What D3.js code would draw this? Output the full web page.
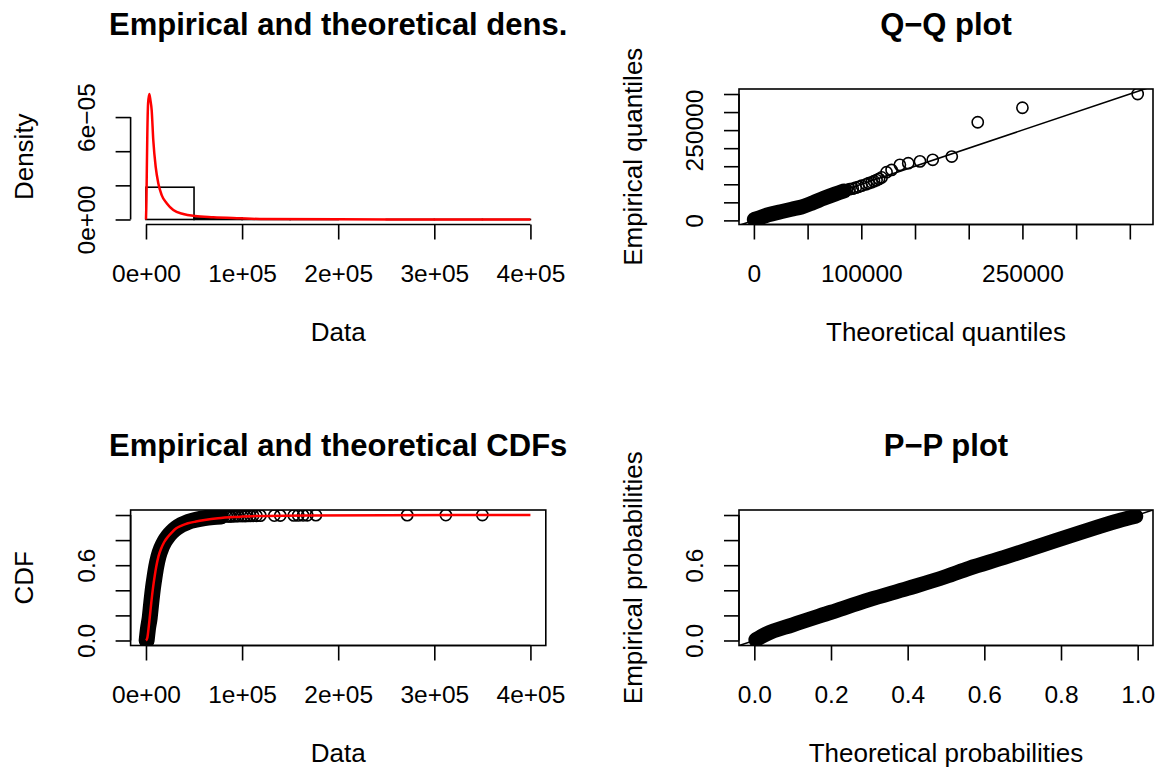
<!DOCTYPE html>
<html>
<head>
<meta charset="utf-8">
<script src="https://cdn.jsdelivr.net/npm/d3@7"></script>
<style>
body { margin: 0; background: #fff; }
text { font-family: "Liberation Sans", Arial, Helvetica, sans-serif; fill: #000; }
</style>
</head>
<body>
<div id="chart"></div>
<script>
// ---- data ----
// histogram (breaks and densities)
var histBreaks = [0, 50000, 100000, 150000, 200000, 250000, 300000, 350000, 400000];
var histDensity = [1.89e-5, 0.09e-5, 0.008e-5, 0.01e-5, 0, 0.0005e-5, 0.0005e-5, 0.0005e-5];

// fitted density (red curve)
var densFitX = [0, 500, 900, 1400, 2200, 3430, 4600, 5930, 7600, 10090, 12800, 16340, 21540, 28410, 38810, 50990, 70030, 97810, 118600, 200000, 300000, 400000];
var densFitY = [0, 1.2e-5, 3.0e-5, 5.0e-5, 6.8e-5, 7.35e-5, 7.0e-5, 6.41e-5, 4.65e-5, 3.09e-5, 2.12e-5, 1.43e-5, 0.95e-5, 0.556e-5, 0.32e-5, 0.20e-5, 0.13e-5, 0.07e-5, 0.03e-5, 0.01e-5, 0.004e-5, 0.002e-5];

// largest observations (drawn one by one), their ECDF values and theoretical quantiles
var tailValues = [84000, 86500, 88000, 90500, 93000, 96000, 100000, 103000, 105500, 108500, 111500, 115000, 119000, 133500, 139700, 153800, 158400, 163500, 167800, 176800, 271800, 312000, 350000];
var tailCdf = [0.9885, 0.989, 0.9895, 0.990, 0.9905, 0.991, 0.9915, 0.992, 0.9925, 0.993, 0.9935, 0.994, 0.995, 0.9955, 0.996, 0.9965, 0.997, 0.9975, 0.998, 0.9985, 0.999, 0.9995, 1.0];
var tailTheo = [86500, 89000, 92000, 94800, 97500, 100300, 104500, 106800, 109600, 111800, 114200, 116500, 118900, 123500, 128200, 135900, 143700, 154600, 166500, 184200, 208400, 250000, 357300];

// dense part of the sample, read as the centre line of the black band
var cdfBandX = [700, 2000, 3850, 5500, 7300, 9000, 10700, 13000, 15900, 19000, 22900, 27000, 31500, 37000, 43700, 52000, 61000, 70000, 78000];
var cdfBandP = [0.0, 0.09, 0.18, 0.30, 0.42, 0.51, 0.59, 0.67, 0.735, 0.785, 0.83, 0.865, 0.895, 0.922, 0.945, 0.962, 0.975, 0.983, 0.988];

// fitted CDF (red curve)
var cdfFitX = [0, 1350, 2600, 3850, 5500, 7280, 9000, 10720, 13000, 15920, 19000, 22890, 27000, 31530, 37000, 43700, 52000, 61080, 74920, 95000, 115200, 167200, 250000, 400000];
var cdfFitP = [0, 0.02, 0.09, 0.178, 0.30, 0.417, 0.51, 0.589, 0.67, 0.735, 0.785, 0.827, 0.862, 0.894, 0.915, 0.934, 0.948, 0.960, 0.974, 0.985, 0.992, 0.997, 0.999, 1.0];

// Q-Q band (theoretical, empirical)
var qqBandTheo = [400, 5000, 13300, 25000, 35000, 44400, 55000, 65000, 75400, 84000];
var qqBandEmp = [2500, 7000, 15500, 24000, 31000, 37200, 49000, 61000, 72600, 81500];

// P-P band (theoretical, empirical)
var ppTheo = [0.004, 0.03, 0.1, 0.2, 0.3, 0.4, 0.5, 0.56, 0.65, 0.75, 0.85, 0.95, 0.995];
var ppEmp = [0.006, 0.05, 0.125, 0.225, 0.325, 0.415, 0.51, 0.575, 0.66, 0.76, 0.86, 0.955, 0.99];

// tick values and the labels that are shown
var sciTicks = [0, 100000, 200000, 300000, 400000];
var sciLabels = ["0e+00", "1e+05", "2e+05", "3e+05", "4e+05"];
var densTicks = [0, 2e-5, 4e-5, 6e-5];
var densLabels = ["0e+00", "", "", "6e\u221205"];
var qqTicks = [0, 50000, 100000, 150000, 200000, 250000, 300000, 350000];
var qqXLabels = ["0", "", "100000", "", "", "250000", "", ""];
var qqYLabels = ["0", "", "", "", "", "250000", "", ""];
var probTicks = [0, 0.2, 0.4, 0.6, 0.8, 1.0];
var probXLabels = ["0.0", "0.2", "0.4", "0.6", "0.8", "1.0"];
var probYLabels = ["0.0", "", "", "0.6", "", ""];

// ---- layout ----
var width = 1163, height = 769;
var cols = [[130.6, 545.8], [739, 1153]];
var rows = [[224.5, 89], [645.5, 510]];
var lw = 1.6, rad = 5.6;
var tickFont = 24.5, labFont = 26;

function ext(lo, hi) {
  var d = (hi - lo) * 0.04;
  return [lo - d, hi + d];
}

var svg = d3.select("#chart").append("svg")
  .attr("width", width)
  .attr("height", height);
svg.append("rect").attr("width", width).attr("height", height).attr("fill", "#fff");

function panel(o) {
  var xr = cols[o.col], yr = rows[o.row];
  var x = d3.scaleLinear().domain(o.xdom).range(xr);
  var y = d3.scaleLinear().domain(o.ydom).range(yr);
  var g = svg.append("g");
  var id = "clip" + o.col + o.row;
  g.append("clipPath").attr("id", id).append("rect")
    .attr("x", xr[0]).attr("y", yr[1])
    .attr("width", xr[1] - xr[0]).attr("height", yr[0] - yr[1]);
  var plot = g.append("g").attr("clip-path", "url(#" + id + ")");

  if (o.box) {
    g.append("rect")
      .attr("x", xr[0]).attr("y", yr[1])
      .attr("width", xr[1] - xr[0]).attr("height", yr[0] - yr[1])
      .attr("fill", "none").attr("stroke", "#000").attr("stroke-width", lw);
  }

  // x axis
  var gx = g.append("g").attr("transform", "translate(0," + yr[0] + ")")
    .call(d3.axisBottom(x).tickValues(o.xticks)
      .tickFormat(function(d, i) { return o.xlabels[i]; })
      .tickSize(15).tickSizeOuter(0).tickPadding(25));
  gx.select(".domain").remove();
  gx.append("line")
    .attr("x1", x(o.xticks[0])).attr("x2", x(o.xticks[o.xticks.length - 1]))
    .attr("stroke", "#000").attr("stroke-width", lw);
  gx.selectAll("line").attr("stroke-width", lw);
  gx.selectAll("text").attr("font-size", tickFont).attr("font-family", null)
    .attr("dy", null).attr("y", 57.2);

  // y axis, labels turned like R's default
  var gy = g.append("g").attr("transform", "translate(" + xr[0] + ",0)")
    .call(d3.axisLeft(y).tickValues(o.yticks)
      .tickFormat(function(d, i) { return o.ylabels[i]; })
      .tickSize(15).tickSizeOuter(0));
  gy.select(".domain").remove();
  gy.append("line")
    .attr("y1", y(o.yticks[0])).attr("y2", y(o.yticks[o.yticks.length - 1]))
    .attr("stroke", "#000").attr("stroke-width", lw);
  gy.selectAll("line").attr("stroke-width", lw);
  gy.selectAll("text")
    .attr("x", null).attr("dy", null)
    .attr("text-anchor", "middle")
    .attr("font-size", tickFont).attr("font-family", null)
    .attr("transform", "translate(-35.6,0) rotate(-90)");

  var cx = (xr[0] + xr[1]) / 2, cy = (yr[0] + yr[1]) / 2;
  g.append("text").attr("x", cx).attr("y", yr[1] - 54)
    .attr("text-anchor", "middle").attr("font-size", 31).attr("font-weight", "bold")
    .text(o.title);
  g.append("text").attr("x", cx).attr("y", yr[0] + 116)
    .attr("text-anchor", "middle").attr("font-size", labFont)
    .text(o.xlab);
  g.append("text")
    .attr("transform", "translate(" + (xr[0] - 97.3) + "," + cy + ") rotate(-90)")
    .attr("text-anchor", "middle").attr("font-size", labFont)
    .text(o.ylab);

  return { x: x, y: y, plot: plot };
}

function band(p, xs, ys, w) {
  var pts = xs.map(function(d, i) { return [d, ys[i]]; });
  p.plot.append("path")
    .attr("d", d3.line().x(function(d) { return p.x(d[0]); }).y(function(d) { return p.y(d[1]); })
      .curve(d3.curveMonotoneX)(pts))
    .attr("fill", "none").attr("stroke", "#000").attr("stroke-width", w)
    .attr("stroke-linecap", "round").attr("stroke-linejoin", "round");
  p.plot.selectAll(null).data(pts).enter().append("circle")
    .attr("cx", function(d) { return p.x(d[0]); })
    .attr("cy", function(d) { return p.y(d[1]); })
    .attr("r", rad).attr("fill", "none").attr("stroke", "#000").attr("stroke-width", lw);
}

function circles(p, xs, ys) {
  p.plot.selectAll(null).data(xs).enter().append("circle")
    .attr("cx", function(d) { return p.x(d); })
    .attr("cy", function(d, i) { return p.y(ys[i]); })
    .attr("r", rad).attr("fill", "none").attr("stroke", "#000").attr("stroke-width", lw);
}

function redLine(p, xs, ys) {
  var pts = xs.map(function(d, i) { return [d, ys[i]]; });
  p.plot.append("path")
    .attr("d", d3.line().x(function(d) { return p.x(d[0]); }).y(function(d) { return p.y(d[1]); })
      .curve(d3.curveMonotoneX)(pts))
    .attr("fill", "none").attr("stroke", "#ff0000").attr("stroke-width", 2.5);
}

// ---- panel 1: density ----
var p1 = panel({
  col: 0, row: 0, box: false,
  xdom: ext(0, 400000), ydom: ext(0, d3.max(densFitY)),
  xticks: sciTicks, xlabels: sciLabels,
  yticks: densTicks, ylabels: densLabels,
  title: "Empirical and theoretical dens.", xlab: "Data", ylab: "Density"
});
var bins = histDensity.map(function(d, i) { return { x0: histBreaks[i], x1: histBreaks[i + 1], d: d }; });
p1.plot.selectAll(null).data(bins).enter().append("rect")
  .attr("x", function(b) { return p1.x(b.x0); })
  .attr("width", function(b) { return p1.x(b.x1) - p1.x(b.x0); })
  .attr("y", function(b) { return p1.y(b.d); })
  .attr("height", function(b) { return p1.y(0) - p1.y(b.d); })
  .attr("fill", "none").attr("stroke", "#000").attr("stroke-width", lw);
redLine(p1, densFitX, densFitY);

// ---- panel 2: Q-Q ----
var qqTheoAll = qqBandTheo.concat(tailTheo), qqEmpAll = qqBandEmp.concat(tailValues);
var p2 = panel({
  col: 1, row: 0, box: true,
  xdom: ext(d3.min(qqTheoAll), d3.max(qqTheoAll)), ydom: ext(d3.min(qqEmpAll), d3.max(qqEmpAll)),
  xticks: qqTicks, xlabels: qqXLabels,
  yticks: qqTicks, ylabels: qqYLabels,
  title: "Q\u2212Q plot", xlab: "Theoretical quantiles", ylab: "Empirical quantiles"
});
band(p2, qqBandTheo, qqBandEmp, 15);
circles(p2, tailTheo, tailValues);
p2.plot.append("line")
  .attr("x1", p2.x(-50000)).attr("y1", p2.y(-50000))
  .attr("x2", p2.x(450000)).attr("y2", p2.y(450000))
  .attr("stroke", "#000").attr("stroke-width", lw);

// ---- panel 3: CDF ----
var p3 = panel({
  col: 0, row: 1, box: true,
  xdom: ext(0, 400000), ydom: ext(0, 1),
  xticks: sciTicks, xlabels: sciLabels,
  yticks: probTicks, ylabels: probYLabels,
  title: "Empirical and theoretical CDFs", xlab: "Data", ylab: "CDF"
});
band(p3, cdfBandX, cdfBandP, 16);
circles(p3, tailValues, tailCdf);
redLine(p3, cdfFitX, cdfFitP);

// ---- panel 4: P-P ----
var p4 = panel({
  col: 1, row: 1, box: true,
  xdom: ext(0, 1), ydom: ext(0, 1),
  xticks: probTicks, xlabels: probXLabels,
  yticks: probTicks, ylabels: probYLabels,
  title: "P\u2212P plot", xlab: "Theoretical probabilities", ylab: "Empirical probabilities"
});
band(p4, ppTheo, ppEmp, 15);
p4.plot.append("line")
  .attr("x1", p4.x(-0.1)).attr("y1", p4.y(-0.1))
  .attr("x2", p4.x(1.1)).attr("y2", p4.y(1.1))
  .attr("stroke", "#000").attr("stroke-width", lw);
</script>
</body>
</html>
